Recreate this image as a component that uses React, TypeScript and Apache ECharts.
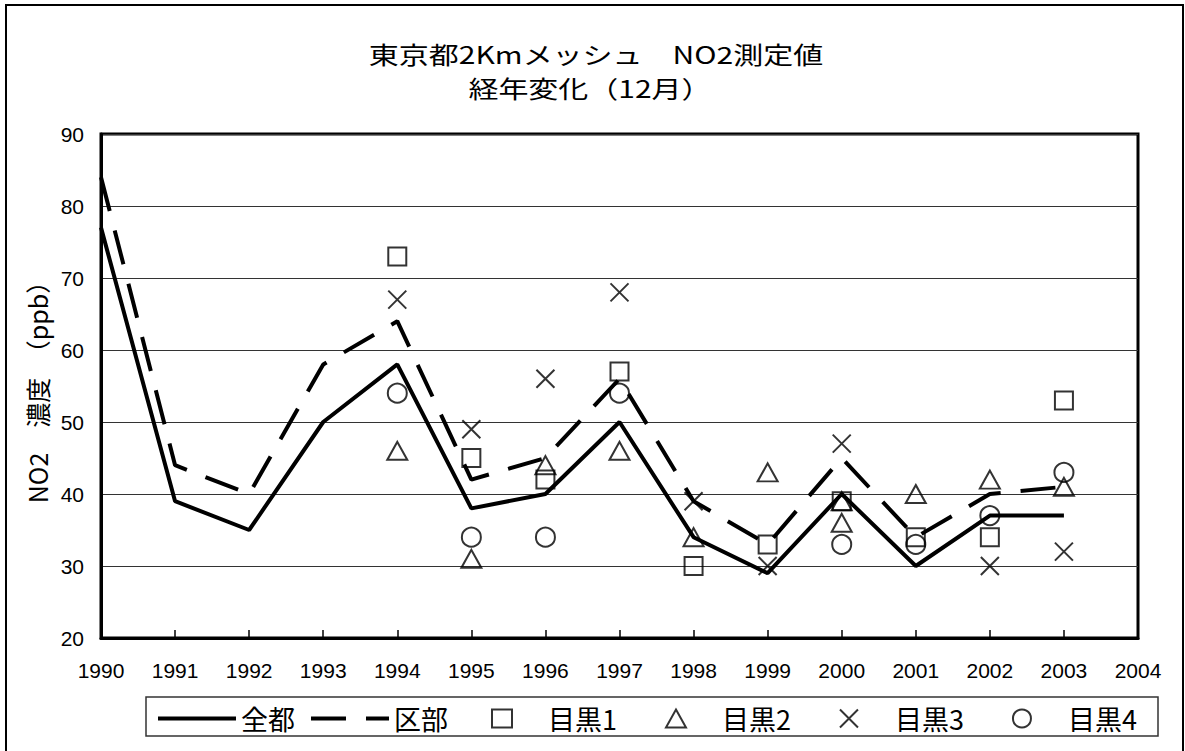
import React, { useEffect, useRef } from "react";
import * as echarts from "echarts";

const years = [1990, 1991, 1992, 1993, 1994, 1995, 1996, 1997, 1998, 1999, 2000, 2001, 2002, 2003];
const zento = [77, 39, 35, 50, 58, 38, 40, 50, 34, 29, 40, 30, 37, 37];
const kubu = [84, 44, 40, 58, 64, 42, 45, 56, 39, 33, 45, 34, 40, 41];
const meguro1 = [[1994, 73], [1995, 45], [1996, 42], [1997, 57], [1998, 30], [1999, 33], [2000, 39], [2001, 34], [2002, 34], [2003, 53]];
const meguro2 = [[1994, 46], [1995, 31], [1996, 44], [1997, 46], [1998, 34], [1999, 43], [2000, 39], [2000, 36], [2001, 40], [2002, 42], [2003, 41]];
const meguro3 = [[1994, 67], [1995, 49], [1996, 56], [1997, 68], [1998, 39], [1999, 30], [2000, 47], [2002, 30], [2003, 32]];
const meguro4 = [[1994, 54], [1995, 34], [1996, 34], [1997, 54], [2000, 33], [2001, 33], [2002, 37], [2003, 43]];
const seriesNames = ["全都", "区部", "目黒1", "目黒2", "目黒3", "目黒4"];
const titleLines = ["東京都2Kmメッシュ　NO2測定値", "経年変化（12月）"];
const yAxisName = "NO2　濃度　（ppb）";

const CJK = '"Noto Sans CJK JP", sans-serif';
const LAT = '"Liberation Sans", Arial, sans-serif';
const X_PATH = "path://M0,0L20,20M20,0L0,20";
const DASH = [35, 20];

export default function App() {
  const ref = useRef<HTMLDivElement>(null);
  useEffect(() => {
    if (!ref.current) return;
    const chart = echarts.init(ref.current, undefined, { renderer: "svg" });
    const markerStyle = { color: "rgba(0,0,0,0)", borderColor: "#000", borderWidth: 2 };
    const hiddenDot = { color: "rgba(0,0,0,0)", borderColor: "rgba(0,0,0,0)", borderWidth: 0 };
    chart.setOption({
      animation: false,
      backgroundColor: "#fff",
      grid: { left: 101, top: 134, right: 47, bottom: 113, show: true, borderColor: "#000", borderWidth: 3 },
      xAxis: {
        type: "value",
        min: 1990,
        max: 2004,
        interval: 1,
        axisLine: { show: true, lineStyle: { color: "#000", width: 3 } },
        axisTick: { show: true, inside: true, length: 8, lineStyle: { color: "#000", width: 1.5 } },
        splitLine: { show: false },
        axisLabel: { color: "#000", fontSize: 21, fontFamily: LAT, margin: 22, formatter: (v: number) => String(v) },
      },
      yAxis: {
        type: "value",
        min: 20,
        max: 90,
        interval: 10,
        name: yAxisName,
        nameLocation: "middle",
        nameRotate: 90,
        nameGap: 52,
        nameTextStyle: { color: "#000", fontSize: 25, fontFamily: CJK },
        axisLine: { show: true, lineStyle: { color: "#000", width: 3 } },
        axisTick: { show: false },
        splitLine: { show: true, lineStyle: { color: "#333", width: 1 } },
        axisLabel: { color: "#000", fontSize: 21, fontFamily: LAT, margin: 17 },
      },
      legend: [
        {
          data: [
            { name: seriesNames[0], itemStyle: hiddenDot, lineStyle: { width: 4, color: "#000", type: "solid" } },
            { name: seriesNames[1], itemStyle: hiddenDot, lineStyle: { width: 4, color: "#000", type: DASH } },
          ],
          left: 151,
          top: 700,
          itemWidth: 78,
          itemHeight: 14,
          itemGap: 14,
          itemStyle: hiddenDot,
          textStyle: { color: "#000", fontSize: 27, fontFamily: CJK },
        },
        {
          data: [seriesNames[2], seriesNames[3], seriesNames[4], seriesNames[5]],
          left: 486,
          top: 700,
          itemWidth: 20,
          itemHeight: 18,
          itemGap: 48,
          textStyle: { color: "#000", fontSize: 27, fontFamily: CJK, padding: [0, 0, 0, 31] },
        },
      ],
      graphic: [
        { type: "rect", z: 0, silent: true, shape: { x: 6, y: 5, width: 1177, height: 800 }, style: { fill: "none", stroke: "#000", lineWidth: 2 } },
        { type: "rect", z: 0, silent: true, shape: { x: 146, y: 697, width: 1012, height: 39 }, style: { fill: "none", stroke: "#333", lineWidth: 1.5 } },
        { type: "text", x: 596, y: 53, scaleX: 1.25, style: { text: titleLines[0], fontSize: 24, fontFamily: CJK, fill: "#000", align: "center", verticalAlign: "middle" } },
        { type: "text", x: 590, y: 87, scaleX: 1.25, style: { text: titleLines[1], fontSize: 24, fontFamily: CJK, fill: "#000", align: "center", verticalAlign: "middle" } },
      ],
      series: [
        {
          name: seriesNames[0],
          type: "line",
          data: years.map((y, i) => [y, zento[i]]),
          symbol: "none",
          lineStyle: { color: "#000", width: 4 },
          itemStyle: { color: "#000" },
          z: 2,
        },
        {
          name: seriesNames[1],
          type: "line",
          data: years.map((y, i) => [y, kubu[i]]),
          symbol: "none",
          lineStyle: { color: "#000", width: 4, type: DASH },
          itemStyle: { color: "#000" },
          z: 2,
        },
        { name: seriesNames[2], type: "scatter", data: meguro1, symbol: "rect", symbolSize: 18, itemStyle: markerStyle, z: 3 },
        { name: seriesNames[3], type: "scatter", data: meguro2, symbol: "triangle", symbolSize: [20, 18], itemStyle: markerStyle, z: 3 },
        { name: seriesNames[4], type: "scatter", data: meguro3, symbol: X_PATH, symbolSize: 18, itemStyle: markerStyle, z: 3 },
        { name: seriesNames[5], type: "scatter", data: meguro4, symbol: "circle", symbolSize: 19, itemStyle: markerStyle, z: 3 },
      ],
    });
    return () => chart.dispose();
  }, []);
  return <div ref={ref} style={{ position: "fixed", left: 0, top: 0, width: 1185, height: 751 }} />;
}
